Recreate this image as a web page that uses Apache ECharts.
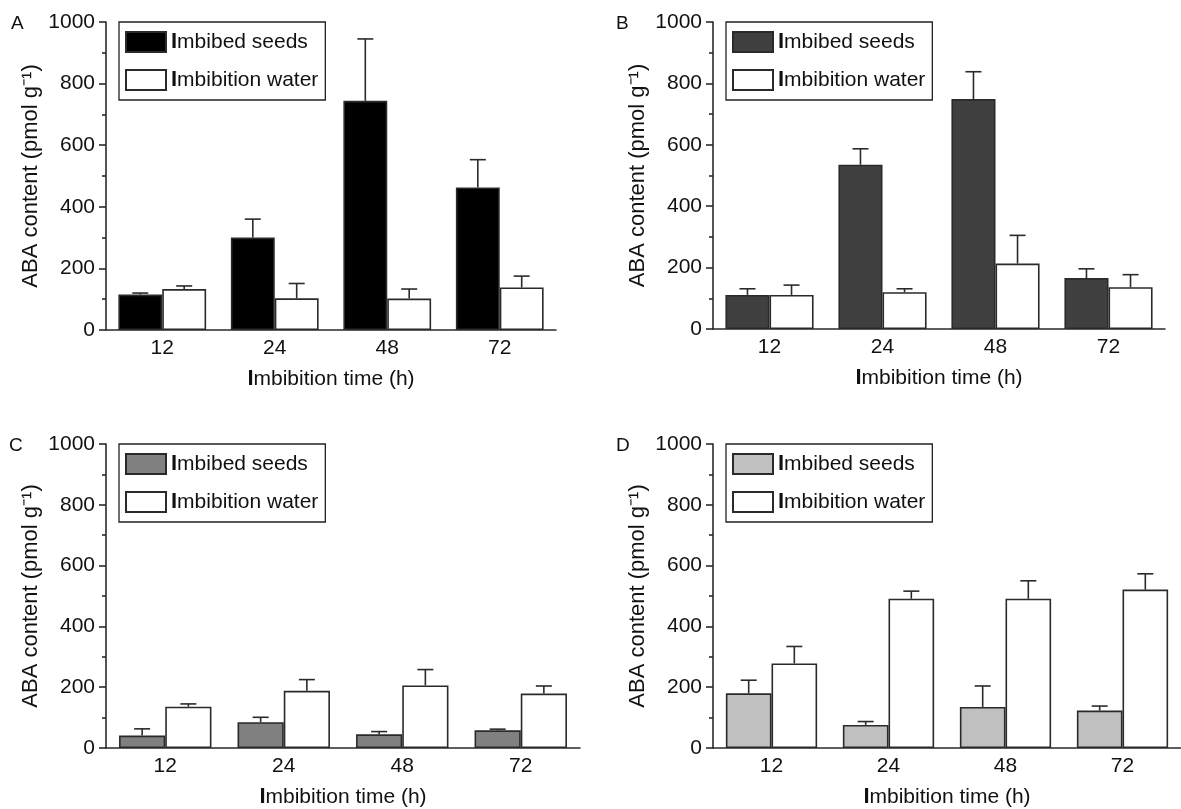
<!DOCTYPE html>
<html>
<head>
<meta charset="utf-8">
<script src="https://cdn.jsdelivr.net/npm/echarts@6/dist/echarts.min.js"></script>
<style>
  html, body { margin: 0; padding: 0; background: #fff; }
  #main { width: 1181px; height: 809px; }
</style>
</head>
<body>
<div id="main"></div>
<script>
// imbibition time (h)
var categories = ['12', '24', '48', '72'];

// A
var seedsA = [115, 300, 744, 463];
var seedsErrA = [5, 60, 201, 90];
var waterA = [133, 103, 102, 138];
var waterErrA = [10, 48, 31, 37];
// B
var seedsB = [111, 535, 749, 166];
var seedsErrB = [20, 52, 89, 30];
var waterB = [111, 120, 213, 136];
var waterErrB = [32, 11, 92, 41];
// C
var seedsC = [41, 85, 45, 58];
var seedsErrC = [22, 16, 9, 4];
var waterC = [136, 188, 206, 179];
var waterErrC = [9, 37, 52, 25];
// D
var seedsD = [180, 76, 135, 123];
var seedsErrD = [43, 11, 69, 15];
var waterD = [278, 491, 491, 521];
var waterErrD = [56, 25, 59, 52];

var yTicks = [0, 200, 400, 600, 800, 1000];

var panels = [
  { key: 'A', seeds: seedsA, seedsErr: seedsErrA, water: waterA, waterErr: waterErrA, color: '#000000',
    grid: { left: 106, top: 22, width: 450, height: 308 }, letter: [11, 14] },
  { key: 'B', seeds: seedsB, seedsErr: seedsErrB, water: waterB, waterErr: waterErrB, color: '#404040',
    grid: { left: 713, top: 22, width: 452, height: 307 }, letter: [616, 14] },
  { key: 'C', seeds: seedsC, seedsErr: seedsErrC, water: waterC, waterErr: waterErrC, color: '#808080',
    grid: { left: 106, top: 444, width: 474, height: 307 }, letter: [9, 436] },
  { key: 'D', seeds: seedsD, seedsErr: seedsErrD, water: waterD, waterErr: waterErrD, color: '#c0c0c0',
    grid: { left: 713, top: 444, width: 473, height: 307 }, letter: [616, 436] }
];

var FONT = '"Liberation Sans", Arial, Helvetica, sans-serif';
var INK = '#222';
var EDGE = '#2a2a2a';
var HALF = 0.195; // half of a bar width, as part of the band

// error bar (upper half only), shift -1 = left bar, +1 = right bar
function errorBar(shift) {
  return function (params, api) {
    var i = api.value(0), v = api.value(1), e = api.value(2);
    var base = api.coord([i, v]);
    var top = api.coord([i, v + e]);
    var band = api.size([1, 0])[0];
    var x = base[0] + shift * band * HALF;
    var st = { stroke: EDGE, lineWidth: 1.6, fill: null };
    return {
      type: 'group',
      children: [
        { type: 'line', shape: { x1: x, y1: base[1], x2: x, y2: top[1] }, style: st },
        { type: 'line', shape: { x1: x - 8, y1: top[1], x2: x + 8, y2: top[1] }, style: st }
      ]
    };
  };
}

var legendText = {};
var option = {
  backgroundColor: '#fff',
  animation: false,
  textStyle: { fontFamily: FONT },
  title: [], grid: [], xAxis: [], yAxis: [], legend: [], series: []
};

panels.forEach(function (p, k) {
  var sName = p.key + ' seeds', wName = p.key + ' water';
  legendText[sName] = '{b|I}mbibed seeds';
  legendText[wName] = '{b|I}mbibition water';

  option.title.push({
    text: p.key, left: p.letter[0], top: p.letter[1], padding: 0,
    textStyle: { fontSize: 19, fontWeight: 'normal', color: '#111', fontFamily: FONT }
  });
  option.grid.push(p.grid);
  option.xAxis.push({
    type: 'category', gridIndex: k, data: categories,
    name: '{b|I}mbibition time (h)', nameLocation: 'middle', nameGap: 38,
    nameTextStyle: { fontSize: 21, color: '#111', fontFamily: FONT,
      rich: { b: { fontSize: 22, fontWeight: 'bold', color: '#111', fontFamily: FONT } } },
    axisLine: { lineStyle: { color: EDGE, width: 1.6 } },
    axisTick: { show: false },
    axisLabel: { fontSize: 21, color: '#111', margin: 8 }
  });
  option.yAxis.push({
    type: 'value', gridIndex: k, min: 0, max: 1000, interval: 200,
    name: 'ABA content (pmol g\u207B\u00B9)', nameLocation: 'middle', nameGap: 64,
    nameTextStyle: { fontSize: 22, color: '#111', fontFamily: FONT },
    axisLine: { show: true, lineStyle: { color: EDGE, width: 1.6 } },
    axisTick: { show: true, length: 7, lineStyle: { color: EDGE, width: 1.6 },
      customValues: yTicks },
    minorTick: { show: true, splitNumber: 2, length: 4, lineStyle: { color: EDGE, width: 1.6 } },
    splitLine: { show: false },
    axisLabel: { fontSize: 21, color: '#111', margin: 11,
      formatter: function (v) { return String(v); } }
  });
  option.legend.push({
    orient: 'vertical', left: p.grid.left + 13, top: p.grid.top,
    data: [sName, wName],
    icon: 'rect', itemWidth: 40, itemHeight: 20, itemGap: 16,
    padding: [9, 7, 9, 6],
    borderColor: INK, borderWidth: 1.3,
    selectedMode: false,
    formatter: function (name) { return legendText[name]; },
    textStyle: { fontSize: 21, lineHeight: 20, color: '#111', fontFamily: FONT,
      rich: { b: { fontSize: 22, fontWeight: 'bold', color: '#111', fontFamily: FONT, lineHeight: 20 } } }
  });

  option.series.push({
    name: sName, type: 'bar', xAxisIndex: k, yAxisIndex: k,
    data: p.seeds, barWidth: '39%', barGap: '0%',
    itemStyle: { color: p.color, borderColor: EDGE, borderWidth: 1.6 }
  });
  option.series.push({
    name: wName, type: 'bar', xAxisIndex: k, yAxisIndex: k,
    data: p.water, barWidth: '39%', barGap: '0%',
    itemStyle: { color: '#ffffff', borderColor: EDGE, borderWidth: 1.6 }
  });
  option.series.push({
    type: 'custom', xAxisIndex: k, yAxisIndex: k, silent: true, z: 5,
    renderItem: errorBar(-1), encode: { x: 0, y: 1 },
    data: p.seeds.map(function (v, i) { return [i, v, p.seedsErr[i]]; })
  });
  option.series.push({
    type: 'custom', xAxisIndex: k, yAxisIndex: k, silent: true, z: 5,
    renderItem: errorBar(1), encode: { x: 0, y: 1 },
    data: p.water.map(function (v, i) { return [i, v, p.waterErr[i]]; })
  });
});

var chart = echarts.init(document.getElementById('main'));
chart.setOption(option);
</script>
</body>
</html>
